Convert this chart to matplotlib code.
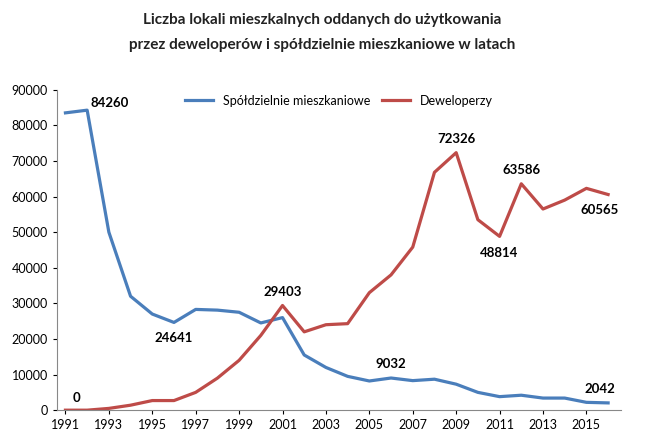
import matplotlib
matplotlib.use("Agg")
import matplotlib.pyplot as plt

plt.rcParams["font.family"] = "Lato"

years = list(range(1991, 2017))
spoldzielnie = [83500, 84260, 50000, 32000, 27000, 24641, 28300, 28100, 27500, 24500,
                26000, 15500, 12000, 9500, 8200, 9032, 8300, 8700, 7300, 5000,
                3800, 4200, 3400, 3400, 2200, 2042]
deweloperzy = [0, 0, 500, 1400, 2700, 2700, 5000, 9000, 14000, 21000,
               29403, 22000, 24000, 24300, 33000, 38000, 45800, 66800, 72326, 53500,
               48814, 63586, 56500, 59000, 62300, 60565]
xticks = list(range(1991, 2017, 2))
yticks = list(range(0, 90001, 10000))

fig = plt.figure(figsize=(6.45, 4.42), dpi=100)
ax = fig.add_axes([0.088, 0.072, 0.875, 0.725])
ax.plot(years, spoldzielnie, color="#4a7ebb", lw=2.3, label="Spółdzielnie mieszkaniowe")
ax.plot(years, deweloperzy, color="#be4b48", lw=2.3, label="Deweloperzy")
ax.set_xlim(1990.6, 2016.6)
ax.set_ylim(0, 90000)
ax.set_xticks(xticks)
ax.set_yticks(yticks)
ax.tick_params(labelsize=9, length=3)
for s in ["top", "right"]:
    ax.spines[s].set_visible(False)
ax.spines["left"].set_color("#888888")
ax.spines["bottom"].set_color("#888888")
ax.legend(loc="upper center", bbox_to_anchor=(0.5, 1.02), ncol=2, frameon=False,
          fontsize=9, handlelength=2.2, columnspacing=1.0)

def lab(x, y, t, dx, dy):
    ax.annotate(t, (x, y), xytext=(dx, dy), textcoords="offset points",
                fontsize=9.5, fontweight="bold", ha="center", va="center")

lab(1992, 84260, "84260", 16, 5)
lab(1996, 24641, "24641", 0, -11)
lab(1991, 0, "0", 8, 9)
lab(2001, 29403, "29403", 0, 10)
lab(2006, 9032, "9032", 0, 10)
lab(2009, 72326, "72326", 0, 10)
lab(2011, 48814, "48814", 0, -12)
lab(2012, 63586, "63586", 0, 10)
lab(2016, 60565, "60565", -6, -11)
lab(2016, 2042, "2042", -6, 10)

fig.text(0.5, 0.945, "Liczba lokali mieszkalnych oddanych do użytkowania", ha="center",
         fontsize=11, fontweight="bold", color="#222222")
fig.text(0.5, 0.89, "przez deweloperów i spółdzielnie mieszkaniowe w latach", ha="center",
         fontsize=11, fontweight="bold", color="#222222")
fig.savefig("out.png", dpi=100)
